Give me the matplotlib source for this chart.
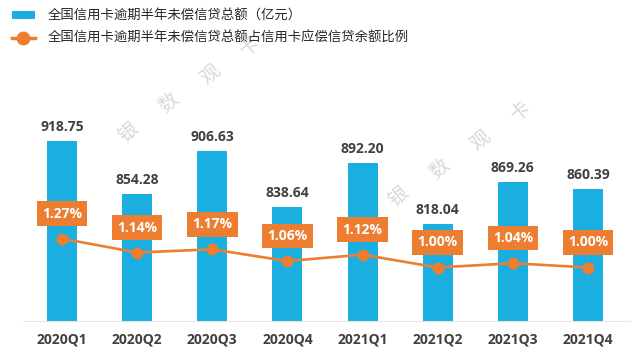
import matplotlib
matplotlib.use("Agg")
import matplotlib.pyplot as plt
from matplotlib.lines import Line2D
from matplotlib.patches import Patch

plt.rcParams['font.family'] = ['Noto Sans CJK SC', 'DejaVu Sans']

quarters = ["2020Q1", "2020Q2", "2020Q3", "2020Q4", "2021Q1", "2021Q2", "2021Q3", "2021Q4"]
overdue = [918.75, 854.28, 906.63, 838.64, 892.20, 818.04, 869.26, 860.39]
ratio = [1.27, 1.14, 1.17, 1.06, 1.12, 1.00, 1.04, 1.00]
bar_name = "全国信用卡逾期半年未偿信贷总额（亿元）"
line_name = "全国信用卡逾期半年未偿信贷总额占信用卡应偿信贷余额比例"
watermark = ["银", "数", "观", "卡"]

BAR_C = "#1AAFE0"
LINE_C = "#ED7D31"
TXT_C = "#404040"
NUMF = ['Open Sans', 'DejaVu Sans']

W, H = 634, 364
fig = plt.figure(figsize=(W / 100, H / 100), dpi=100)
ax = fig.add_axes([23 / W, (H - 321) / H, (630 - 23) / W, (321 - 74) / H])
ax2 = ax.twinx()

x = list(range(len(quarters)))
ax.bar(x, overdue, width=0.4, color=BAR_C, zorder=2)
ax.set_ylim(700, 1000)
ax.set_xlim(-0.519, 7.559)

for xi, v in zip(x, overdue):
    ax.annotate(f"{v:.2f}", (xi, v), xytext=(0, 5), textcoords='offset points',
                ha='center', va='bottom', fontsize=10, fontweight='bold',
                color=TXT_C, family=NUMF)

ax2.plot(x, ratio, color=LINE_C, lw=1.9, marker='o', markersize=7.5, zorder=3)
ax2.set_ylim(0.5, 0.5 + 247 / 107)
for xi, v in zip(x, ratio):
    ax2.annotate(f"{v:.2f}%", (xi, v), xytext=(0, 18), textcoords='offset points',
                 ha='center', va='center', fontsize=10, fontweight='bold',
                 color='white', family=NUMF,
                 bbox=dict(boxstyle='square,pad=0.38', fc=LINE_C, ec='none'))

for a in (ax, ax2):
    for s in ['top', 'right', 'left']:
        a.spines[s].set_visible(False)
    a.set_yticks([])
ax2.spines['bottom'].set_visible(False)
ax.spines['bottom'].set_color('#e6e6e6')
ax.spines['bottom'].set_linewidth(0.8)
ax.set_xticks(x)
ax.set_xticklabels(quarters, fontsize=10, fontweight='bold', color=TXT_C, family=NUMF)
ax.tick_params(axis='x', length=0, pad=8)

# watermark text
wm1 = [(128, 133), (169, 103), (210, 74), (250, 46)]
wm2 = [(398, 197), (440, 169), (480, 140), (521, 111)]
for pts in (wm1, wm2):
    for ch, (px, py) in zip(watermark, pts):
        fig.text(px / W, 1 - py / H, ch, fontsize=14, color='#d9d9d9',
                 rotation=40, ha='center', va='center', zorder=0)

handles = [Patch(facecolor=BAR_C, edgecolor='none'),
           Line2D([], [], color=LINE_C, lw=2.5, marker='o', markersize=9)]
fig.legend(handles, [bar_name, line_name], loc='upper left',
           bbox_to_anchor=(0 / W, 1 + 3 / H), frameon=False, fontsize=9.6,
           handlelength=1.7, handleheight=0.5, handletextpad=1.0,
           labelspacing=0.6, labelcolor='#262626')

fig.savefig("out.png", dpi=100)
